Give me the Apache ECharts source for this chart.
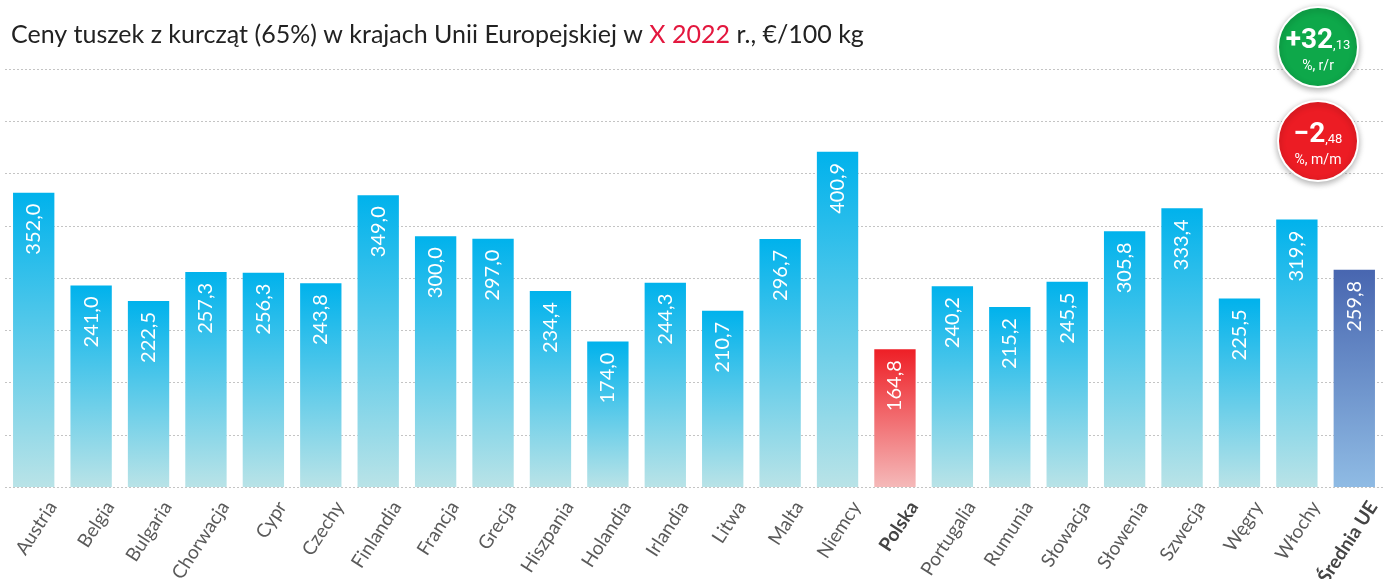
<!DOCTYPE html>
<html>
<head>
<meta charset="utf-8">
<script src="https://cdn.jsdelivr.net/npm/echarts@6/dist/echarts.min.js"></script>
<style>
  html, body { margin: 0; padding: 0; background: #fff; }
  #chart { width: 1395px; height: 579px; }
</style>
</head>
<body>
<div id="chart"></div>
<script>
  // kraje UE
  var countries = ['Austria', 'Belgia', 'Bulgaria', 'Chorwacja', 'Cypr', 'Czechy', 'Finlandia', 'Francja', 'Grecja',
    'Hiszpania', 'Holandia', 'Irlandia', 'Litwa', 'Malta', 'Niemcy', 'Polska', 'Portugalia', 'Rumunia', 'Słowacja',
    'Słowenia', 'Szwecja', 'Węgry', 'Włochy', 'Średnia UE']
  // ceny, €/100 kg
  var prices = [352.0, 241.0, 222.5, 257.3, 256.3, 243.8, 349.0, 300.0, 297.0, 234.4, 174.0, 244.3, 210.7, 296.7,
    400.9, 164.8, 240.2, 215.2, 245.5, 305.8, 333.4, 225.5, 319.9, 259.8]
  var changeYoY = ['+32', ',13']
  var changeMoM = ['\u22122', ',48']

  function grad (top, bottom) {
    return new echarts.graphic.LinearGradient(0, 0, 0, 1, [
      {offset: 0, color: top},
      {offset: 1, color: bottom}
    ])
  }

  var barData = prices.map(function (v, i) {
    var name = countries[i]
    var color = grad('#00b2ec', '#b9e3e7')
    if (name === 'Polska') color = grad('#ee1f26', '#f5b9b9')
    if (name === 'Średnia UE') color = grad('#4866b0', '#8fbbe4')
    return {value: v, itemStyle: {color: color}}
  })

  function badge (cy, fill, big, small, sub) {
    return {
      type: 'group',
      z: 100,
      children: [
        {
          type: 'circle',
          z: 100,
          shape: {cx: 1318, cy: cy, r: 40},
          style: {fill: fill, stroke: '#fff', lineWidth: 2, shadowBlur: 6, shadowColor: 'rgba(0,0,0,0.3)', shadowOffsetY: 2}
        },
        {
          type: 'text',
          z: 101,
          x: 1318, y: cy - 6,
          style: {
            text: '{b|' + big + '}{s|' + small + '}',
            align: 'center', verticalAlign: 'middle',
            rich: {
              b: {font: 'bold 28px Roboto', fill: '#fff'},
              s: {font: '13px Roboto', fill: '#fff', padding: [10, 0, 0, 0]}
            }
          }
        },
        {
          type: 'text',
          z: 101,
          x: 1318, y: cy + 19,
          style: {text: sub, align: 'center', verticalAlign: 'middle', font: '14px Roboto', fill: '#fff'}
        }
      ]
    }
  }

  var myChart = echarts.init(document.getElementById('chart'))
  var option = {
    animation: false,
    title: {
      text: 'Ceny tuszek z kurcząt (65%) w krajach Unii Europejskiej w {r|X 2022} r., €/100 kg',
      left: 6,
      top: 17,
      textStyle: {
        fontFamily: 'Lato',
        fontSize: 25,
        fontWeight: 'normal',
        color: '#222',
        rich: {
          r: {fontFamily: 'Lato', fontSize: 25, color: '#e3173e'}
        }
      }
    },
    grid: {
      left: 5,
      right: 12,
      top: 69,
      bottom: 92,
      containLabel: false,
      outerBoundsMode: 'none'
    },
    xAxis: {
      type: 'category',
      data: countries,
      axisLine: {show: false},
      axisTick: {show: false},
      axisLabel: {
        interval: 0,
        rotate: 57,
        margin: 4,
        verticalAlign: 'top',
        padding: [13, 0, 0, 0],
        fontFamily: 'Lato',
        fontSize: 19,
        color: '#555',
        formatter: function (v) {
          if (v === 'Polska' || v === 'Średnia UE') return '{b|' + v + '}'
          return '{n|' + v + '}'
        },
        rich: {
          n: {fontFamily: 'Lato', fontSize: 19, color: '#5a5a5a'},
          b: {fontFamily: 'Lato', fontSize: 19, fontWeight: 'bold', color: '#444'}
        }
      }
    },
    yAxis: {
      type: 'value',
      min: 0,
      max: 500,
      interval: 62.5,
      axisLabel: {show: false},
      axisLine: {show: false},
      axisTick: {show: false},
      splitLine: {lineStyle: {color: '#c4c4c4', type: [2, 2], width: 1}}
    },
    series: [
      {
        type: 'bar',
        barWidth: '72%',
        data: barData,
        label: {
          show: true,
          position: 'insideTop',
          rotate: 90,
          align: 'right',
          verticalAlign: 'middle',
          distance: 11,
          fontFamily: 'Lato',
          fontSize: 20,
          color: '#fff',
          formatter: function (p) {
            return p.value.toFixed(1).replace('.', ',')
          }
        }
      }
    ],
    graphic: [
      badge(47, '#0ea84a', changeYoY[0], changeYoY[1], '%, r/r'),
      badge(141, '#ec1c24', changeMoM[0], changeMoM[1], '%, m/m')
    ]
  }
  myChart.setOption(option, true)
</script>
</body>
</html>
